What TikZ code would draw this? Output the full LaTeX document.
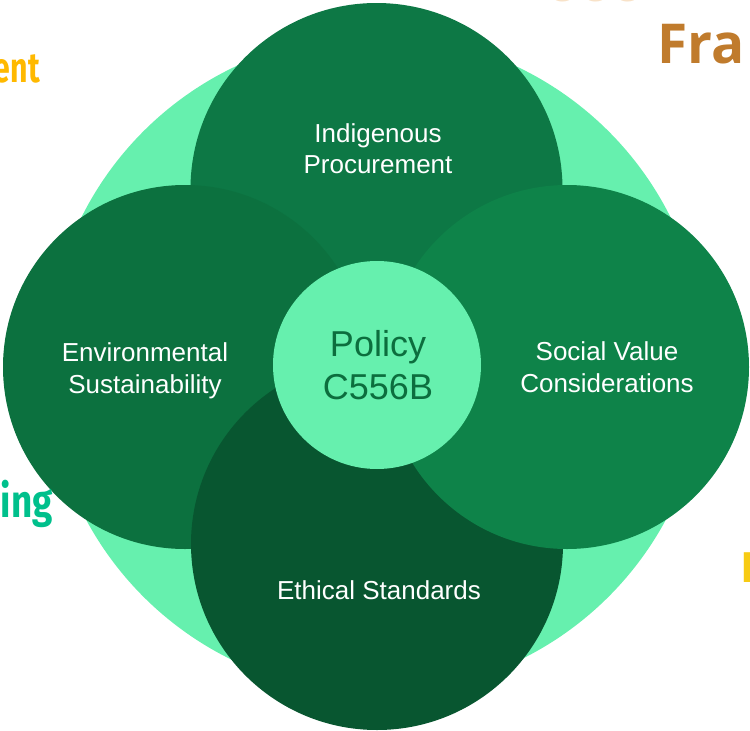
\documentclass[tikz,border=0pt]{standalone}
\usepackage{fontspec}
\usepackage{graphicx}
\setmainfont{Liberation Sans}
\newfontfamily\opensans{Open Sans}
\newfontfamily\firasans{Fira Sans}
\definecolor{lightc}{HTML}{66F0AE}
\definecolor{topc}{HTML}{0D7845}
\definecolor{leftc}{HTML}{0C713F}
\definecolor{botc}{HTML}{085630}
\definecolor{rightc}{HTML}{0E8349}
\definecolor{centertxt}{HTML}{0C6E3E}
\definecolor{entc}{HTML}{FFB900}
\definecolor{frac}{HTML}{C07B2C}
\definecolor{ingc}{HTML}{00C08C}
\definecolor{ic}{HTML}{F7CB14}
\definecolor{faintc}{HTML}{F8E2C8}
\tikzset{
  lab/.style={text=white, inner sep=0pt, anchor=base, font=\fontsize{26}{31}\selectfont},
  ctr/.style={text=centertxt, inner sep=0pt, anchor=base, font=\fontsize{36}{43}\selectfont},
  edge/.style={inner sep=0pt},
}
\begin{document}
\begin{tikzpicture}[x=1pt,y=-1pt]
\useasboundingbox (0,0) rectangle (750,731);
\clip (0,0) rectangle (750,731);
% background circle
\fill[lightc] (376,364) circle (329);
% four circles
\fill[topc] (376.5,189) circle (186);
\fill[leftc] (185,367) circle (182);
\fill[botc] (377,544) circle (186);
\fill[rightc] (567,367) circle (182);
% center
\fill[lightc] (377,365) circle (104);
% labels
\node[lab] (ind1) at (378,142) {Indigenous};
\node[lab] (ind2) at (378,173) {Procurement};
\node[lab] (env1) at (145,361) {Environmental};
\node[lab] (env2) at (145,393) {Sustainability};
\node[lab] (soc1) at (607,360) {Social Value};
\node[lab] (soc2) at (607,392) {Considerations};
\node[lab] (eth) at (379,599) {Ethical Standards};
\node[ctr] (pol1) at (378,356) {Policy};
\node[ctr] (pol2) at (378,399) {C556B};
% clipped edge texts
\node[edge, anchor=base east, text=entc] (ent) at (40,82)
  {\scalebox{0.72}[1]{\firasans\bfseries\fontsize{42}{42}\selectfont ent}};
\node[edge, anchor=base east, text=ingc] (ing) at (53,517)
  {\scalebox{0.8}[1]{\firasans\bfseries\fontsize{46}{46}\selectfont ing}};
\node[edge, anchor=base west, text=frac] (fra) at (657,63)
  {\opensans\bfseries\fontsize{55}{55}\selectfont Fra};
\node[edge, anchor=base west, text=ic] (iy) at (741,582)
  {\firasans\bfseries\fontsize{43}{43}\selectfont I};
\node[edge, anchor=base west, text=faintc] (faint) at (546,1.5)
  {\opensans\bfseries\fontsize{53}{53}\selectfont ooo};
\end{tikzpicture}
\end{document}
